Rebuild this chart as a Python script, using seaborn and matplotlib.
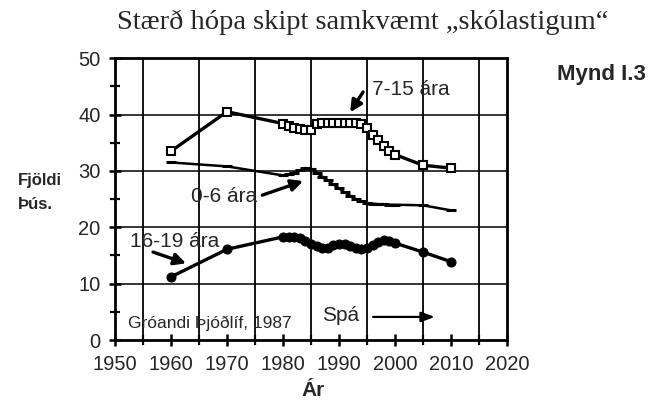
import pandas as pd
import matplotlib.pyplot as plt
import seaborn as sns

years = [1960, 1970, 1980, 1981, 1982, 1983, 1984, 1985, 1986, 1987, 1988, 1989, 1990,
         1991, 1992, 1993, 1994, 1995, 1996, 1997, 1998, 1999, 2000, 2005, 2010]
age_7_15 = [33.5, 40.5, 38.4, 38.0, 37.6, 37.4, 37.3, 37.3, 38.4, 38.5, 38.5, 38.5, 38.5,
            38.5, 38.5, 38.5, 38.4, 37.6, 36.4, 35.4, 34.5, 33.6, 32.9, 31.0, 30.5]
age_0_6 = [31.5, 30.8, 29.2, 29.4, 29.7, 30.1, 30.5, 30.4, 29.7, 29.0, 28.3, 27.6, 26.9,
           26.2, 25.6, 25.0, 24.6, 24.3, 24.2, 24.1, 24.1, 24.0, 24.0, 23.9, 23.0]
age_16_19 = [11.2, 16.1, 18.3, 18.3, 18.3, 18.1, 17.6, 17.1, 16.7, 16.4, 16.4, 16.8, 17.1,
             17.0, 16.7, 16.3, 16.1, 16.4, 16.9, 17.4, 17.8, 17.6, 17.2, 15.6, 13.9]

x_ticks = [1950, 1960, 1970, 1980, 1990, 2000, 2010, 2020]
y_ticks = [0, 10, 20, 30, 40, 50]
v_grid = [1955, 1965, 1975, 1985, 1995, 2005, 2015]
h_grid = [10, 20, 30, 40]

df = pd.DataFrame({"Ár": years, "7-15": age_7_15, "0-6": age_0_6, "16-19": age_16_19})

sns.set_style("white")
plt.rcParams['font.family'] = ['Liberation Sans', 'DejaVu Sans']

fig = plt.figure(figsize=(6.54, 4.01), dpi=100)
ax = fig.add_axes([0.1758, 0.152, 0.5994, 0.703])

sns.lineplot(data=df, x="Ár", y="7-15", ax=ax, color='black', lw=2.4, marker='s',
             markersize=6, markerfacecolor='white', markeredgecolor='black', markeredgewidth=1.5,
             zorder=3)
sns.lineplot(data=df, x="Ár", y="0-6", ax=ax, color='black', lw=1.8, marker='_',
             markersize=7, markeredgecolor='black', markeredgewidth=2.2, zorder=3)
sns.lineplot(data=df, x="Ár", y="16-19", ax=ax, color='black', lw=2.4, marker='o',
             markersize=6.5, markerfacecolor='black', markeredgecolor='black', zorder=3)

# grid drawn by hand, the original has vertical lines between the labelled years
for v in v_grid:
    ax.plot([v, v], [0, 50], color='black', lw=1.3, zorder=2, solid_capstyle='butt')
for h in h_grid:
    ax.plot([1950, 2020], [h, h], color='black', lw=1.1, zorder=2, solid_capstyle='butt')

ax.set_xlim(1950, 2020)
ax.set_ylim(0, 50)
ax.set_xticks(x_ticks)
ax.set_xticks(v_grid, minor=True)
ax.set_yticks(y_ticks)
ax.set_yticks([5, 15, 25, 35, 45], minor=True)
ax.tick_params(axis='both', which='major', labelsize=14.5, direction='inout', length=9,
               width=1.8, color='black', left=True, bottom=True, pad=6)
ax.tick_params(axis='both', which='minor', direction='inout', length=7, width=1.6,
               color='black', left=True, bottom=True)
ax.set_xlabel("")
ax.set_ylabel("")
for s in ax.spines.values():
    s.set_color('black')
    s.set_linewidth(2)

arrow = dict(arrowstyle='-|>,head_length=0.7,head_width=0.35', color='black', lw=2.4,
             shrinkA=0, shrinkB=0)
ax.text(1995.9, 44.5, "7-15 ára", fontsize=15, va='center', ha='left')
ax.annotate("", xy=(1992.0, 40.4), xytext=(1994.3, 44.0), arrowprops=arrow)
ax.text(1963.6, 25.4, "0-6 ára", fontsize=15, va='center', ha='left')
ax.annotate("", xy=(1983.6, 28.2), xytext=(1976.3, 25.7), arrowprops=arrow)
ax.text(1952.6, 17.4, "16-19 ára", fontsize=15, va='center', ha='left')
ax.annotate("", xy=(1962.7, 13.6), xytext=(1956.8, 15.6), arrowprops=arrow)
ax.text(1952.3, 3.0, "Gróandi Þjóðlíf, 1987", fontsize=12.5, va='center', ha='left')
ax.text(1987.0, 4.4, "Spá", fontsize=15, va='center', ha='left')
ax.annotate("", xy=(2007.1, 4.1), xytext=(1996.1, 4.1),
            arrowprops=dict(arrowstyle='-|>,head_length=0.8,head_width=0.3', color='black',
                            lw=1.6, shrinkA=0, shrinkB=0))

fig.text(0.554, 0.945, "Stærð hópa skipt samkvæmt „skólastigum“", fontsize=20.5,
         family=['Liberation Serif', 'DejaVu Serif'], ha='center', va='center')
fig.text(0.851, 0.813, "Mynd I.3", fontsize=16, fontweight='bold', ha='left', va='center')
fig.text(0.027, 0.551, "Fjöldi", fontsize=12, fontweight='bold', ha='left', va='center')
fig.text(0.027, 0.489, "Þús.", fontsize=12, fontweight='bold', ha='left', va='center')
fig.text(0.479, 0.025, "Ár", fontsize=15, fontweight='bold', ha='center', va='center')

fig.savefig("out.png", dpi=100)
